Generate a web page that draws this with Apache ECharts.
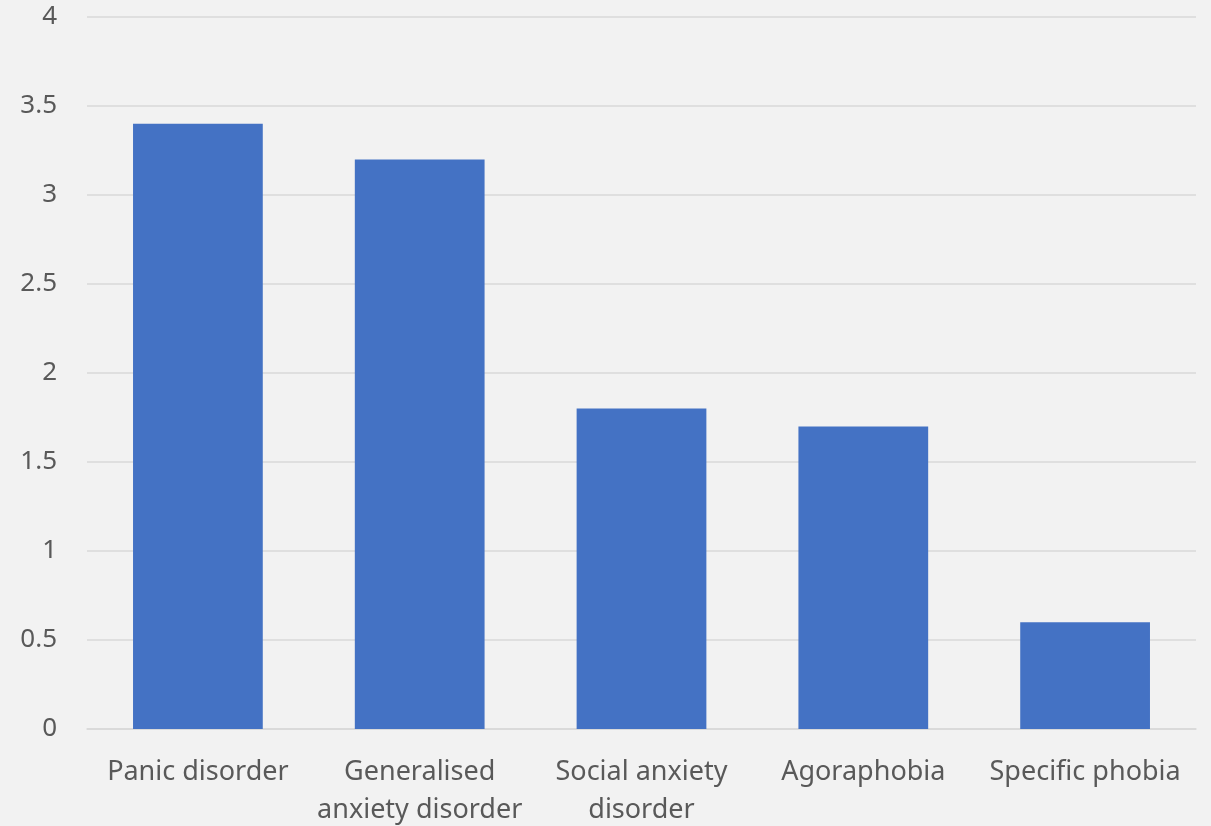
<!DOCTYPE html>
<html>
<head>
<meta charset="utf-8">
<script src="https://cdn.jsdelivr.net/npm/echarts@6/dist/echarts.min.js"></script>
<style>
  html, body { margin: 0; padding: 0; background: #f2f2f2; }
  #chart { width: 1211px; height: 826px; }
</style>
</head>
<body>
<div id="chart"></div>
<script>
// Anxiety disorder categories (line breaks as shown on the axis)
const categories = [
  'Panic disorder',
  'Generalised\nanxiety disorder',
  'Social anxiety\ndisorder',
  'Agoraphobia',
  'Specific phobia'
];
const values = [3.4, 3.2, 1.8, 1.7, 0.6];
const yTicks = [0, 0.5, 1, 1.5, 2, 2.5, 3, 3.5, 4];

const textColor = '#595959';
const fontFamily = '"Noto Sans", "Open Sans", sans-serif';

const chart = echarts.init(document.getElementById('chart'), null, { renderer: 'canvas' });
chart.setOption({
  backgroundColor: '#f2f2f2',
  animation: false,
  grid: {
    left: 87, right: 15, top: 17, bottom: 97,
    containLabel: false,
    outerBoundsMode: 'none'
  },
  xAxis: {
    type: 'category',
    data: categories,
    axisLine: { show: true, lineStyle: { color: '#d9d9d9', width: 1.5 } },
    axisTick: { show: false },
    axisLabel: {
      color: textColor,
      fontFamily: fontFamily,
      fontSize: 27,
      lineHeight: 38,
      margin: 24,
      interval: 0
    }
  },
  yAxis: {
    type: 'value',
    min: yTicks[0],
    max: yTicks[yTicks.length - 1],
    interval: yTicks[1] - yTicks[0],
    axisLine: { show: false },
    axisTick: { show: false },
    splitLine: { lineStyle: { color: '#d9d9d9', width: 1.5 } },
    axisLabel: {
      color: textColor,
      fontFamily: fontFamily,
      fontSize: 26,
      margin: 30,
      padding: [3, 0, 0, 0],
      formatter: v => String(v)
    }
  },
  series: [{
    type: 'bar',
    data: values,
    barWidth: '58.5%',
    itemStyle: { color: '#4472c4' }
  }]
});
</script>
</body>
</html>
